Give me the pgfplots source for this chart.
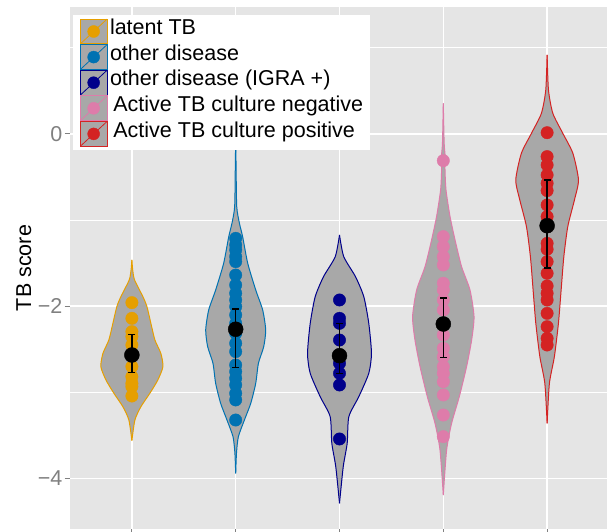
\documentclass[border=0pt]{standalone}
\usepackage{fontspec}
\setmainfont{Liberation Sans}
\usepackage{pgfplots}
\pgfplotsset{compat=1.18}
\usepackage{pgfplotstable}
\usepgfplotslibrary{fillbetween}

\definecolor{panelbg}{RGB}{229,229,229}
\definecolor{violinfill}{RGB}{168,168,168}
\definecolor{cLatent}{RGB}{230,159,0}
\definecolor{cOther}{RGB}{0,114,178}
\definecolor{cIgra}{RGB}{0,0,139}
\definecolor{cNeg}{RGB}{222,124,170}
\definecolor{cPos}{RGB}{212,35,35}
\definecolor{tickgray}{RGB}{128,128,128}

% violin half-widths (w) along the score axis (y)
\pgfplotstableread{
y w
-3.562 0
-3.322 0.029
-3.167 0.087
-3.012 0.173
-2.857 0.250
-2.702 0.299
-2.548 0.279
-2.393 0.222
-2.199 0.183
-2.005 0.145
-1.889 0.106
-1.696 0.026
-1.580 0.008
-1.463 0
}\violinLatent
\pgfplotstableread{
y w
-3.941 0
-3.700 0.008
-3.515 0.026
-3.322 0.084
-3.128 0.145
-2.896 0.193
-2.663 0.219
-2.470 0.270
-2.276 0.289
-2.044 0.260
-1.812 0.193
-1.502 0.116
-1.193 0.067
-1.037 0.036
-0.844 0.010
-0.400 0.004
-0.050 0
}\violinOther
\pgfplotstableread{
y w
-4.289 0
-3.864 0.036
-3.593 0.074
-3.283 0.090
-3.051 0.186
-2.780 0.282
-2.548 0.308
-2.199 0.282
-1.889 0.234
-1.657 0.154
-1.425 0.041
-1.173 0
}\violinIgra
\pgfplotstableread{
y w
-4.193 0
-3.670 0.032
-3.360 0.080
-3.051 0.154
-2.703 0.224
-2.393 0.273
-2.122 0.296
-1.812 0.257
-1.541 0.176
-1.231 0.113
-0.960 0.065
-0.650 0.026
-0.400 0.016
-0.263 0.018
-0.100 0.008
0.356 0
}\violinNeg
\pgfplotstableread{
y w
-3.360 0
-2.896 0.022
-2.586 0.070
-2.199 0.109
-1.812 0.135
-1.425 0.161
-1.076 0.199
-0.767 0.263
-0.534 0.302
-0.224 0.248
0.008 0.151
0.240 0.055
0.511 0.013
0.918 0
}\violinPos

% individual TB scores
\pgfplotstableread{
y
-1.959
-2.141
-2.296
-2.354
-2.450
-2.702
-2.819
-2.896
-2.935
-3.043
}\ptsLatent
\pgfplotstableread{
y
-1.212
-1.289
-1.347
-1.425
-1.483
-1.638
-1.754
-1.850
-1.928
-2.006
-2.102
-2.199
-2.315
-2.431
-2.528
-2.683
-2.760
-2.837
-2.915
-3.012
-3.089
-3.322
}\ptsOther
\pgfplotstableread{
y
-1.928
-2.141
-2.199
-2.393
-2.586
-2.664
-2.780
-2.915
-3.542
}\ptsIgra
\pgfplotstableread{
y
-0.310
-1.192
-1.308
-1.425
-1.521
-1.734
-1.812
-1.928
-2.044
-2.199
-2.334
-2.489
-2.586
-2.702
-2.780
-2.877
-3.031
-3.264
-3.515
}\ptsNeg
\pgfplotstableread{
y
0.015
-0.263
-0.360
-0.476
-0.573
-0.658
-0.825
-0.960
-1.076
-1.270
-1.339
-1.483
-1.618
-1.765
-1.850
-1.928
-2.083
-2.238
-2.373
-2.451
}\ptsPos

% group means
\pgfplotstableread{
x m
1 -2.567
2 -2.268
3 -2.575
4 -2.207
5 -1.065
}\means
% interval limits around each mean (nan rows break the line between groups)
\pgfplotstableread{
x y
1 -2.327
1 -2.768
nan nan
2 -2.036
2 -2.714
nan nan
3 -2.199
3 -2.780
nan nan
4 -1.905
4 -2.594
nan nan
5 -0.534
5 -1.560
}\intervals

\newcommand{\drawviolin}[4]{%
  \addplot[draw=none, forget plot, smooth, tension=0.4, name path=#4R] table[x expr=#1+\thisrow{w}, y=y] {#2};
  \addplot[draw=none, forget plot, smooth, tension=0.4, name path=#4L] table[x expr=#1-\thisrow{w}, y=y] {#2};
  \addplot[fill=violinfill, draw=none, forget plot] fill between[of=#4R and #4L];
  \addplot[#3, line width=1pt, smooth, tension=0.4, forget plot] table[x expr=#1+\thisrow{w}, y=y] {#2};
  \addplot[#3, line width=1pt, smooth, tension=0.4, forget plot] table[x expr=#1-\thisrow{w}, y=y] {#2};
}
\newcommand{\drawpoints}[3]{%
  \addplot[only marks, mark=*, mark size=6.2pt, #3, forget plot] table[x expr=#1, y=y] {#2};
}

\pgfplotsset{
  violinkey/.style={legend image code/.code={
    \draw[fill=violinfill, draw=#1, line width=0.8pt] (0pt,-12.4pt) rectangle (26.7pt,12.4pt);
    \draw[#1, line width=0.8pt] (0pt,-12.4pt) -- (26.7pt,12.4pt);
    \fill[#1] (13.35pt,0pt) circle (6pt);
  }}
}

\begin{document}
\begin{tikzpicture}
\begin{axis}[
  set layers,
  at={(0,0)}, anchor=south west,
  scale only axis, width=539.8pt, height=521pt,
  xmin=0.4, xmax=5.6, ymin=-4.582, ymax=1.469,
  axis background/.style={fill=panelbg},
  axis line style={draw=none},
  xtick={1,2,3,4,5}, xticklabels={,,,,},
  ytick={-4,-2,0}, yticklabels={−4,−2,0},
  minor ytick={-3,-1,1},
  xmajorgrids, ymajorgrids, yminorgrids,
  major grid style={white, line width=1.6pt},
  minor grid style={white, line width=0.8pt},
  tick style={tickgray, line width=1pt},
  major tick length=5pt, minor tick length=0pt,
  tick align=outside, xtick pos=left, ytick pos=left,
  yticklabel style={font=\fontsize{21.5}{25}\selectfont, text=tickgray, inner sep=0pt, anchor=east, xshift=-2pt},
  ylabel={TB score},
  ylabel style={font=\fontsize{21.5}{25}\selectfont, at={(axis description cs:0,0.5)}, anchor=center, inner sep=0pt, yshift=45.8pt},
  title={GSE39939},
  title style={font=\fontsize{25.6}{30}\selectfont, at={(axis description cs:0.5,1)}, anchor=base, inner sep=0pt, yshift=4.2pt},
  legend style={at={(0,1)}, anchor=north west, xshift=3.1pt, yshift=-7.5pt,
    draw=none, fill=white, inner xsep=7pt, inner ysep=3.5pt,
    row sep=0pt, column sep=2.6pt,
    font=\fontsize{21.5}{25}\selectfont,
    nodes={inner sep=0pt, text height=0.8em, text depth=0.16em}},
  legend cell align=left,
]
\drawviolin{1}{\violinLatent}{cLatent}{vA}
\drawviolin{2}{\violinOther}{cOther}{vB}
\drawviolin{3}{\violinIgra}{cIgra}{vC}
\drawviolin{4}{\violinNeg}{cNeg}{vD}
\drawviolin{5}{\violinPos}{cPos}{vE}

\drawpoints{1}{\ptsLatent}{cLatent}
\drawpoints{2}{\ptsOther}{cOther}
\drawpoints{3}{\ptsIgra}{cIgra}
\drawpoints{4}{\ptsNeg}{cNeg}
\drawpoints{5}{\ptsPos}{cPos}

% intervals with end caps, then the means, above the points
\addplot[on layer=axis foreground, black, line width=1.6pt, mark=-, mark size=3.5pt,
  mark options={solid, line width=1.6pt}, unbounded coords=jump, forget plot]
  table[x=x, y=y] {\intervals};
\addplot[on layer=axis foreground, only marks, mark=*, mark size=7.5pt, black, forget plot]
  table[x=x, y=m] {\means};

\addlegendimage{violinkey=cLatent}
\addlegendentry{latent TB}
\addlegendimage{violinkey=cOther}
\addlegendentry{other disease}
\addlegendimage{violinkey=cIgra}
\addlegendentry{other disease (IGRA +)}
\addlegendimage{violinkey=cNeg}
\addlegendentry{\hspace{3.4pt}Active TB culture negative}
\addlegendimage{violinkey=cPos}
\addlegendentry{\hspace{3.4pt}Active TB culture positive}
\end{axis}
\pgfresetboundingbox
\useasboundingbox (-69.6pt,-3.5pt) rectangle (537.4pt,528.5pt);
\end{tikzpicture}
\end{document}
